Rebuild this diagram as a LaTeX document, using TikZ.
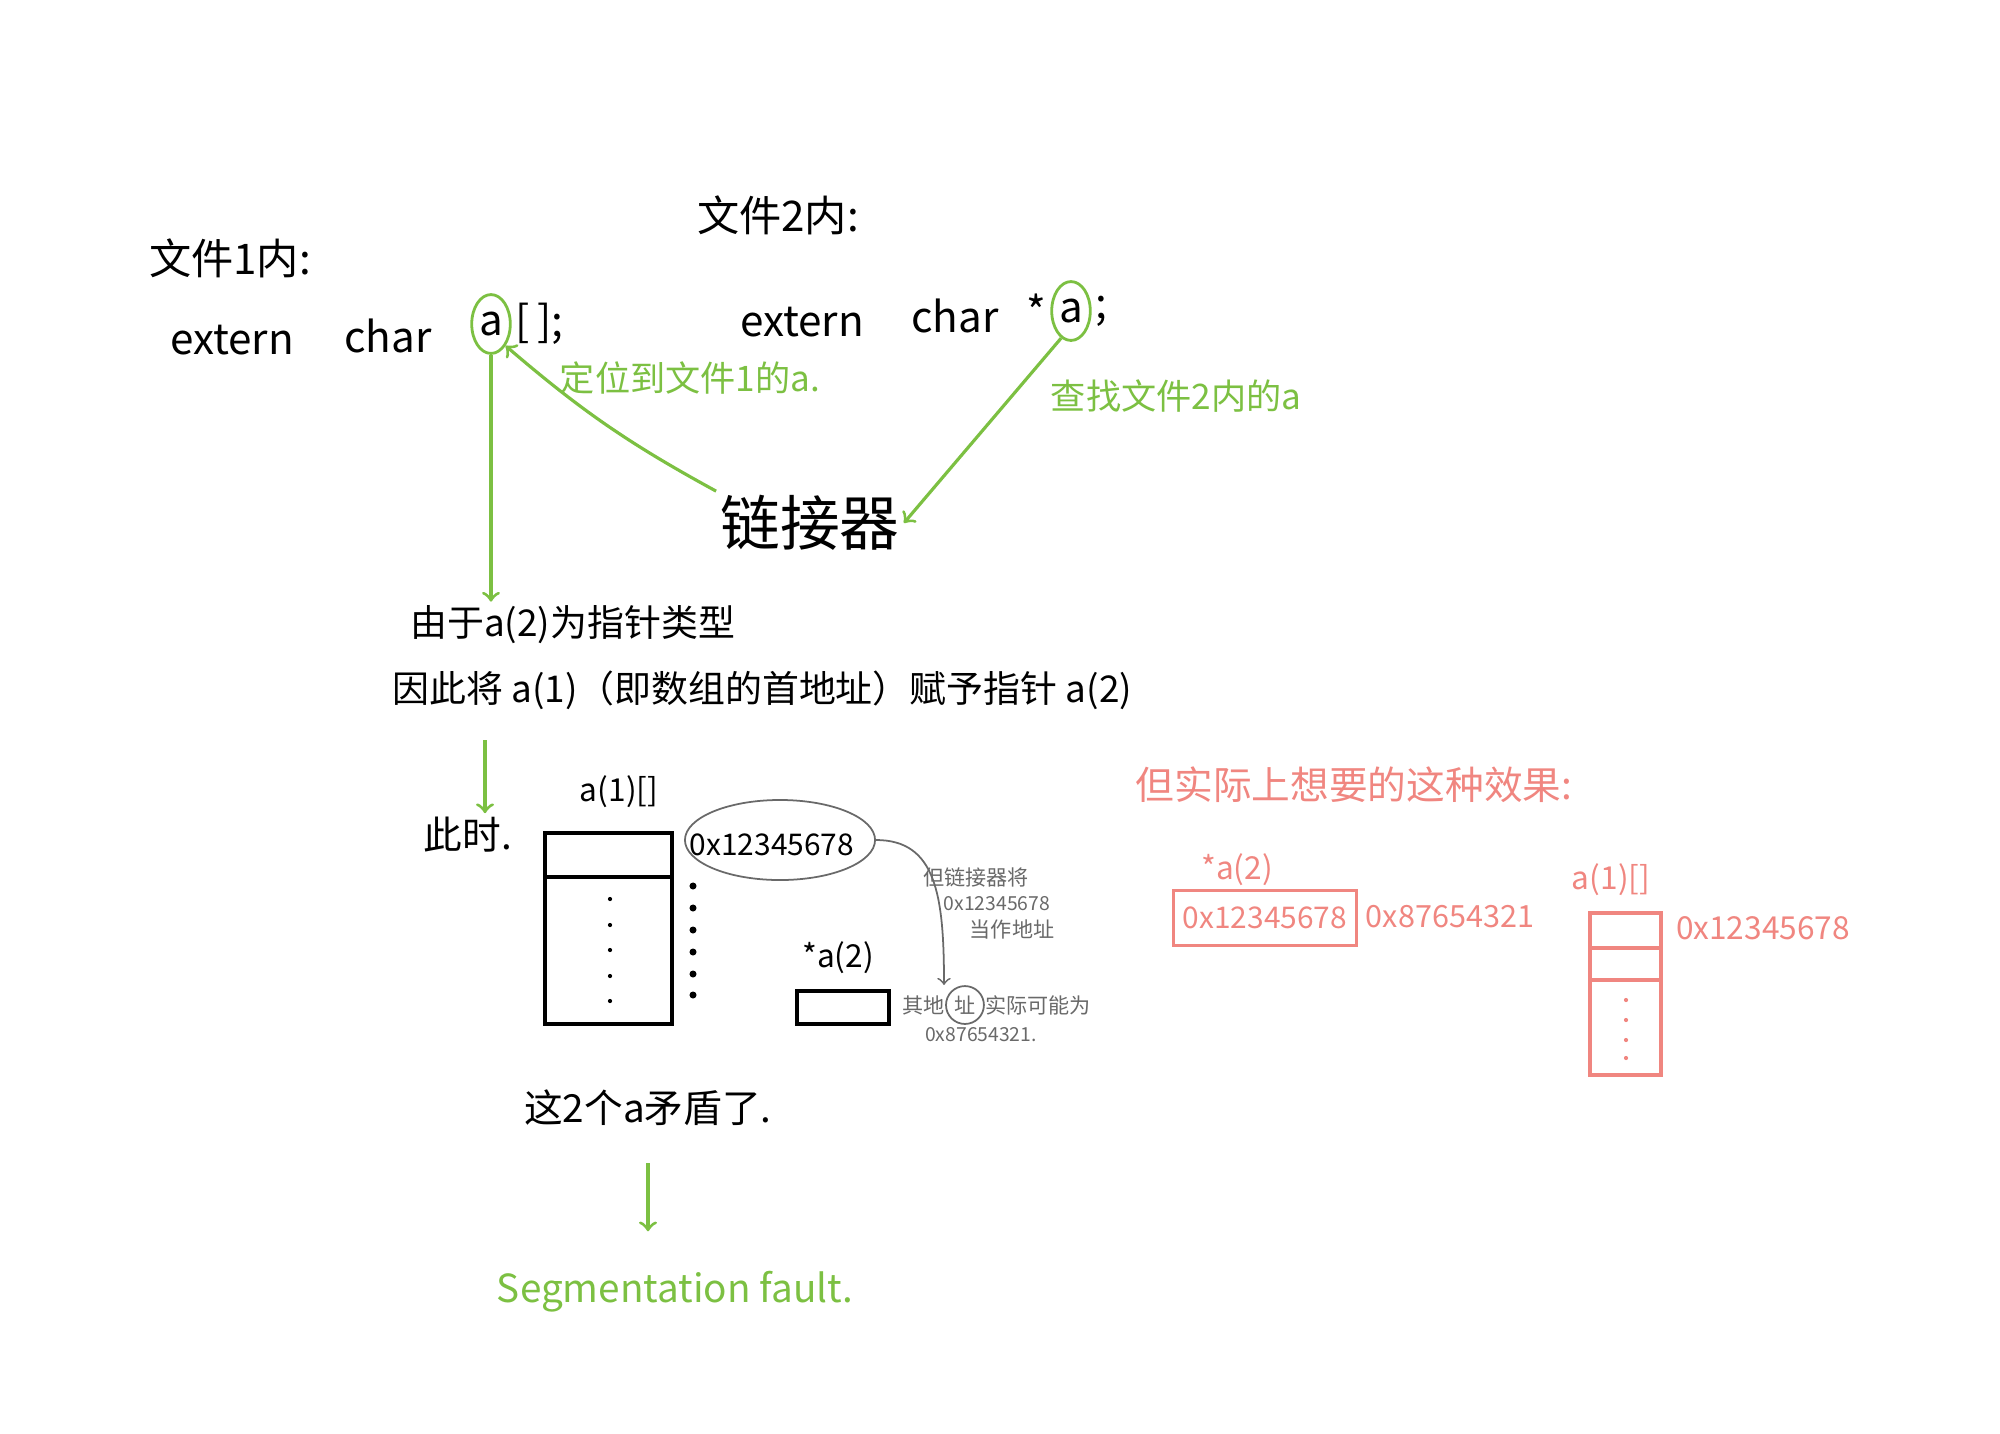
\documentclass[tikz,border=0pt]{standalone}
\usepackage{fontspec}
\newfontfamily\hand{Noto Sans CJK SC}
\usetikzlibrary{shapes.geometric}
\usetikzlibrary{positioning}
\definecolor{penGreen}{RGB}{124,192,66}
\definecolor{penPink}{RGB}{240,134,128}
\definecolor{penGray}{RGB}{105,105,105}

\begin{document}
\begin{tikzpicture}[x=0.01cm, y=-0.01cm,
  txt/.style={font={\hand\fontsize{#1}{#1}\selectfont}, inner sep=1pt},
  txt/.default=11,
  ring/.style={ellipse, draw=penGreen, line width=0.8pt, inner xsep=0.5pt, inner ysep=2.5pt},
  greenarrow/.style={penGreen, line width=0.9pt, ->},
  box/.style={line width=1.2pt}]
\useasboundingbox (0,0) rectangle (2000,1433);

% file headings
\node[txt=12] (file1) at (230,258) {文件1内:};
\node[txt=12] (file2) at (778,215) {文件2内:};

% declarations
\node[txt=12] (ext1) at (232,340) {extern};
\node[txt=12] (char1) at (388,336) {char};
\node[txt=12, ring] (a1) at (491,324) {a};
\node[txt=12, right=0pt of a1] (brk1) {[\,];};
\node[txt=12] (ext2) at (802,322) {extern};
\node[txt=12] (char2) at (955,316) {char};
\node[txt=12, ring] (a2) at (1071,311) {a};
\node[txt=12, left=0pt of a2] (star2) {*};
\node[txt=12, right=0pt of a2] (semi2) {;};

% linker
\node[txt=10, text=penGreen] (locate) at (690,378) {定位到文件1的a.};
\node[txt=10, text=penGreen] (find) at (1176,396) {查找文件2内的a};
\node[txt=17] (linker) at (810,523) {链接器};
\draw[greenarrow] (linker.north west) to[bend left=6] (a1.south east);
\draw[greenarrow] (a2.250) -- (linker.east);

% explanation
\node[txt=10.5, anchor=west] (why) at (406,625) {由于a(2)为指针类型};
\node[txt=10.5, anchor=west] (so) at (388,690) {因此将 a(1)（即数组的首地址）赋予指针 a(2)};
\draw[greenarrow] (a1.south) -- (a1.south |- why.north);
\coordinate (d1) at (485,740);
\node[txt=11] (now) at (468,835) {此时.};
\draw[greenarrow] (d1) -- (d1 |- now.north);

% array a(1)
\node[txt=9] (arrlbl) at (619,792) {a(1)[]};
\draw[box] (545,833) rectangle (672,1024);
\draw[box] (545,877) -- (672,877);
\foreach \y in {899,925,950,976,1001}
  \fill (610,\y) circle (0.6pt);
\foreach \y in {886,908,930,952,974,995}
  \fill (693,\y) circle (1pt);
\node[txt=8.5] (addr) at (772,845) {0x12345678};
\node[ellipse, draw=penGray, line width=0.5pt, minimum width=1.9cm, minimum height=0.8cm, inner sep=0pt] (ring0) at (780,840) {};

% note of the linker
\node[txt=6, text=penGray] (n1) at (976,877) {但链接器将};
\node[txt=5.5, text=penGray] (n2) at (997,904) {0x12345678};
\node[txt=6, text=penGray] (n3) at (1012,929) {当作地址};
\coordinate (hit) at (944,985);
\draw[penGray, line width=0.5pt, ->] (ring0.east) .. controls +(60,0) and +(0,-90) .. (hit);

% pointer a(2)
\node[txt=9] (starlbl) at (838,958) {*a(2)};
\draw[box] (797,991) rectangle (889,1024);
\node[txt=6, text=penGray, anchor=west] (oth1) at (898,1005) {其地};
\node[txt=6, text=penGray, circle, draw=penGray, line width=0.5pt, inner sep=1pt, right=-1pt of oth1] (site) {址};
\node[txt=6, text=penGray, right=-1pt of site] (oth2) {实际可能为};
\node[txt=5.5, text=penGray] (oth3) at (981,1035) {0x87654321.};

% result
\node[txt=11] (contra) at (648,1108) {这2个a矛盾了.};
\node[txt=11, text=penGreen] (segf) at (675,1292) {Segmentation fault.};
\draw[greenarrow, shorten <=0.33cm, shorten >=0.36cm] (contra.south) -- (contra.south |- segf.north);

% what was wanted
\node[txt=11, text=penPink] (want) at (1354,785) {但实际上想要的这种效果:};
\node[txt=9, text=penPink] (pstar) at (1237,870) {*a(2)};
\node[txt=8.5, text=penPink, draw=penPink, line width=1pt, minimum width=1.83cm, minimum height=0.55cm] (pbox) at (1265,918) {0x12345678};
\node[txt=8.7, text=penPink] (pval) at (1450,917) {0x87654321};
\node[txt=9, text=penPink] (parr) at (1611,880) {a(1)[]};
\draw[penPink, line width=1pt] (1590,913) rectangle (1661,1075);
\draw[penPink, line width=1pt] (1590,948) -- (1661,948);
\draw[penPink, line width=1pt] (1590,980) -- (1661,980);
\foreach \y in {1000,1020,1040,1058}
  \fill[penPink] (1626,\y) circle (0.6pt);
\node[txt=9, text=penPink] (paddr) at (1763,928) {0x12345678};
\end{tikzpicture}
\end{document}
